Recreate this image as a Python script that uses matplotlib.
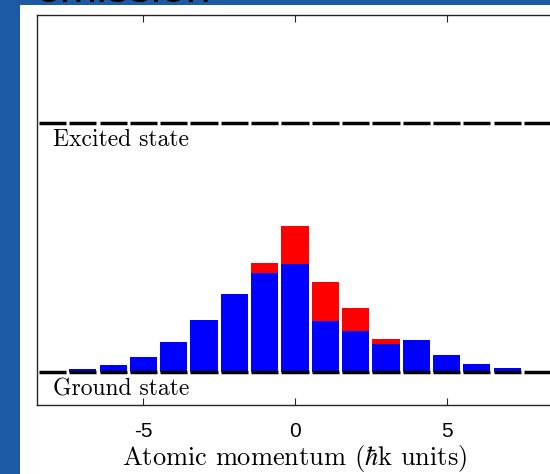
import numpy as np
import matplotlib
matplotlib.use("Agg")
import matplotlib.pyplot as plt
from matplotlib.patches import Rectangle

plt.rcParams['mathtext.fontset'] = 'cm'
plt.rcParams['axes.unicode_minus'] = False

# momentum states (hbar k units)
momentum = np.arange(-8, 9)
# population left in the ground state after emission (blue)
blue_pop = [0, 2.5, 6.5, 14.5, 29.5, 51.5, 77.5, 98.5, 107.5,
            50.5, 40.5, 27.5, 31.5, 16.5, 7.5, 3.5, 0]
# population before (red, drawn behind)
red_pop = [0, 2.5, 6.5, 14.5, 29.5, 51.5, 77.5, 108.5, 145.5,
           89.5, 63.5, 32.5, 31.5, 16.5, 7.5, 3.5, 0]
ground_level = 0
excited_level = 249
tick_vals = [-5, 0, 5]
tick_labels = ['-5', '0', '5']

W, H = 550, 474
fig = plt.figure(figsize=(W / 100, H / 100), dpi=100)
fig.patch.set_facecolor('#1c5aa5')
fig.patches.append(Rectangle((20 / W, 0), 1, 1 - 4.5 / H, transform=fig.transFigure,
                             facecolor='white', edgecolor='none', zorder=-10))
# cut-off slide title
fig.text(35 / W, 1 - 1.5 / H, 'emission', fontsize=32, family='Liberation Sans',
         va='baseline', ha='left', color='black', zorder=5)

ax = fig.add_axes([37.4 / W, 69 / H, 515.2 / W, 390 / H])
ax.set_facecolor('white')

ax.bar(momentum, red_pop, width=0.9, color='#ff0000', edgecolor='none', zorder=2)
ax.bar(momentum, blue_pop, width=0.9, color='#0000ff', edgecolor='none', zorder=3)

# dashed energy levels, one dash per momentum state
for lvl in [ground_level, excited_level]:
    ax.hlines(np.full(len(momentum), lvl), momentum - 0.45, momentum + 0.45,
              colors='black', linewidth=2.5, zorder=4)

serif = dict(family='cmr10', fontsize=17, color='black')
ax.text(-8, excited_level - 23, 'Excited state', va='baseline', ha='left', **serif)
ax.text(-8, ground_level - 23.5, 'Ground state', va='baseline', ha='left', **serif)

ax.set_xlim(-8.5, 8.5)
ax.set_ylim(-33.5, 356.5)
ax.set_xticks(tick_vals)
ax.set_xticklabels(tick_labels, fontsize=15, family='Liberation Sans')
ax.set_yticks([])
ax.tick_params(axis='x', direction='in', length=5, width=0.8, top=True,
               pad=12, colors='#262626', labelcolor='black')
for sp in ax.spines.values():
    sp.set_color('#262626')
    sp.set_linewidth(1.0)

ax.set_xlabel(r'Atomic momentum ($\hbar$k units)', labelpad=2,
              family='cmr10', fontsize=19, color='black')

fig.savefig('out.png', dpi=100, facecolor=fig.get_facecolor())
